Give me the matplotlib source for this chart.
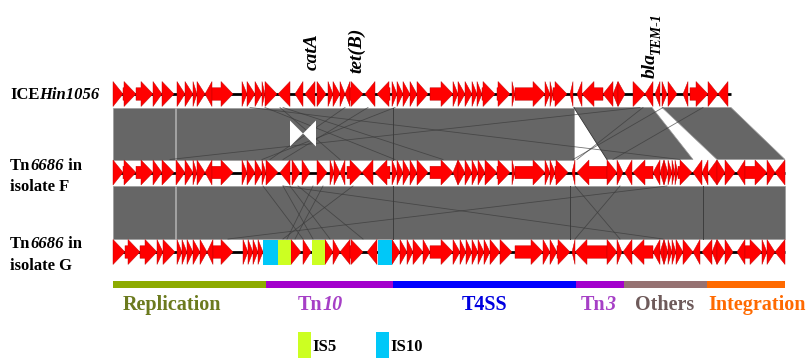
import matplotlib
matplotlib.use("Agg")
import matplotlib.pyplot as plt
from matplotlib.patches import Polygon, Rectangle
from matplotlib.transforms import offset_copy

plt.rcParams["font.family"] = "Liberation Serif"

# --- data (kb) ---------------------------------------------------------------
# each name line is a list of (text, style) pieces
TRACK_NAMES = [
    [[("ICE", "normal"), ("Hin1056", "italic")]],
    [[("Tn", "normal"), ("6686", "italic"), (" in", "normal")],
     [("isolate F", "normal")]],
    [[("Tn", "normal"), ("6686", "italic"), (" in", "normal")],
     [("isolate G", "normal")]],
]
TRACK_LEN = [61.8, 67.2, 67.2]

# (start, end, strand)
GENES_ICE = [
    (0.0, 1.0, 1), (1.0, 2.3, 1), (2.3, 4.0, 1), (4.0, 4.9, 1), (4.9, 6.1, 1),
    (6.4, 7.2, 1), (7.2, 8.0, 1), (8.0, 8.4, 1), (8.4, 9.2, 1), (9.2, 9.9, -1),
    (9.9, 12.0, 1), (12.9, 13.4, 1), (13.4, 14.2, 1), (14.2, 14.9, 1),
    (14.9, 15.2, 1), (15.2, 16.4, 1), (16.5, 17.7, -1), (18.2, 19.0, -1),
    (19.2, 20.2, -1), (20.4, 21.3, 1), (21.5, 22.0, 1), (22.0, 22.7, 1),
    (22.7, 23.2, 1), (23.2, 23.7, -1), (23.7, 25.0, 1), (25.2, 26.2, -1),
    (26.4, 27.7, -1), (27.9, 28.4, 1), (28.4, 29.0, 1), (29.0, 29.7, 1),
    (29.7, 30.4, 1), (30.4, 31.5, 1), (31.7, 34.0, 1), (34.0, 34.5, 1),
    (34.5, 35.2, 1), (35.2, 35.9, 1), (35.9, 36.4, 1), (36.4, 36.9, 1),
    (36.9, 38.2, 1), (38.4, 39.7, 1), (39.9, 40.2, 1), (40.2, 43.2, 1),
    (43.2, 43.7, 1), (43.7, 44.0, 1), (44.0, 45.4, 1), (45.7, 46.0, -1),
    (46.4, 46.9, -1), (46.9, 49.0, -1), (49.0, 50.0, -1), (50.0, 50.5, -1),
    (50.5, 51.2, 1), (52.0, 53.2, 1), (53.2, 54.0, -1), (54.2, 54.7, -1),
    (54.9, 55.4, 1), (55.5, 56.4, 1), (57.0, 57.5, -1), (57.7, 59.5, 1),
    (59.5, 60.5, 1), (60.5, 61.5, -1),
]
GENES_F = [
    (0.0, 1.0, 1), (1.0, 2.3, 1), (2.3, 4.0, 1), (4.0, 4.9, 1), (4.9, 6.1, 1),
    (6.3, 7.2, 1), (7.2, 8.0, 1), (8.0, 8.4, 1), (8.4, 9.2, 1), (9.2, 9.9, -1),
    (9.9, 12.0, 1), (12.9, 13.4, 1), (13.4, 14.2, 1), (14.2, 14.9, 1),
    (14.9, 15.3, 1), (15.3, 16.5, 1), (16.7, 17.7, -1), (17.9, 18.7, 1),
    (18.9, 19.7, 1), (20.4, 21.4, 1), (21.7, 22.1, 1), (22.1, 22.7, 1),
    (22.7, 23.2, -1), (23.4, 24.9, 1), (24.9, 26.0, -1), (26.2, 27.7, -1),
    (27.9, 28.4, 1), (28.4, 29.0, 1), (29.0, 29.7, 1), (29.7, 30.4, 1),
    (30.4, 31.5, 1), (31.7, 34.0, 1), (34.0, 34.5, -1), (34.5, 35.2, 1),
    (35.2, 35.9, 1), (35.9, 36.5, 1), (36.5, 37.2, 1), (37.2, 38.4, 1),
    (38.4, 39.7, 1), (39.9, 40.2, 1), (40.2, 43.2, 1), (43.2, 43.7, 1),
    (43.7, 44.2, 1), (44.2, 45.5, 1), (45.9, 46.2, -1), (46.4, 49.4, -1),
    (49.4, 50.4, 1), (50.4, 51.0, 1), (51.2, 51.9, -1), (52.0, 54.0, -1),
    (54.0, 54.7, -1), (54.7, 55.1, -1), (55.1, 55.5, 1), (55.5, 55.9, 1),
    (55.9, 56.2, 1), (56.2, 56.5, 1), (56.5, 57.9, 1), (58.0, 58.9, -1),
    (58.9, 59.5, -1), (59.5, 60.4, -1), (60.4, 61.2, 1), (61.2, 62.2, 1),
    (62.4, 63.2, -1), (63.2, 65.4, 1), (65.4, 66.2, 1), (66.2, 67.2, -1),
]
GENES_G = [
    (0.0, 1.2, 1), (1.2, 2.7, 1), (2.7, 4.4, 1), (4.4, 5.0, 1), (5.0, 6.2, 1),
    (6.4, 6.9, 1), (6.9, 7.4, 1), (7.4, 8.0, 1), (8.0, 8.7, 1), (8.7, 9.4, 1),
    (9.4, 10.0, -1), (10.0, 12.0, 1), (13.0, 13.5, 1), (13.5, 14.0, 1),
    (14.0, 14.5, 1), (14.5, 15.0, 1), (17.8, 18.8, 1), (19.0, 19.8, 1),
    (21.2, 22.0, 1), (22.0, 22.7, 1), (22.7, 23.7, -1), (23.7, 25.0, 1),
    (25.4, 26.4, -1), (27.9, 28.7, 1), (28.7, 29.4, 1), (29.4, 30.0, 1),
    (30.0, 31.0, 1), (31.0, 31.7, 1), (31.7, 34.0, 1), (34.0, 34.7, 1),
    (34.7, 35.3, 1), (35.3, 35.9, 1), (35.9, 36.5, 1), (36.5, 37.1, 1),
    (37.1, 37.7, 1), (37.7, 38.7, 1), (38.7, 39.9, 1), (40.2, 43.0, 1),
    (43.0, 43.7, 1), (43.7, 44.4, 1), (44.4, 45.7, 1), (45.9, 46.2, -1),
    (46.2, 49.4, -1), (49.4, 50.4, 1), (50.4, 50.9, 1), (51.0, 51.9, -1),
    (51.9, 54.0, -1), (54.0, 54.7, -1), (54.7, 55.1, -1), (55.1, 55.5, 1),
    (55.5, 55.9, 1), (55.9, 56.3, 1), (56.3, 57.0, 1), (57.0, 58.0, 1),
    (58.0, 58.7, -1), (58.9, 59.9, -1), (59.9, 60.4, -1), (60.4, 61.2, 1),
    (61.2, 62.0, 1), (62.4, 63.2, -1), (63.2, 64.9, 1), (64.9, 65.4, 1),
    (65.4, 66.2, 1), (66.2, 67.2, -1),
]
# IS elements in isolate G: (start, end, type)
IS_G = [(15.0, 16.5, "IS10"), (16.5, 17.8, "IS5"), (19.9, 21.2, "IS5"),
        (26.5, 27.9, "IS10")]

# BLAST hits between neighbouring tracks: (top_start, top_end, bot_start, bot_end)
HITS_1 = [(0.0, 6.2, 0.0, 6.2), (6.3, 28.0, 6.3, 28.0), (28.0, 46.1, 28.0, 46.1),
          (46.1, 53.9, 49.4, 58.0), (54.9, 61.8, 60.4, 67.2)]
HITS_2 = [(0.0, 6.2, 0.0, 6.2), (6.3, 28.0, 6.3, 28.0), (28.0, 45.7, 28.0, 45.7),
          (45.7, 59.0, 45.7, 59.0), (59.0, 67.2, 59.0, 67.2)]
# inverted segment leaving a hole in the ICE/F comparison
INV_1 = [(17.7, 20.3)]
# short inverted hits drawn as thin lines: (top_pos, bottom_pos)
SMALL_1 = [(13.7, 56.7), (52.7, 5.7), (15.2, 28.2), (16.7, 22.7), (23.2, 15.7),
           (28.2, 14.9), (53.0, 46.4), (55.0, 46.0), (17.0, 33.0), (25.5, 17.0),
           (59.0, 50.0)]
SMALL_2 = [(17.0, 55.0), (55.4, 11.5), (17.0, 20.0), (20.0, 17.4), (17.7, 21.7),
           (21.0, 18.2), (15.0, 19.0), (46.2, 50.7), (50.7, 46.2), (24.0, 17.0),
           (18.5, 25.0)]

CATEGORIES = [[("Replication", "normal")], [("Tn", "normal"), ("10", "italic")],
              [("T4SS", "normal")], [("Tn", "normal"), ("3", "italic")],
              [("Others", "normal")], [("Integration", "normal")]]
CAT_BOUNDS = [0.0, 15.3, 28.0, 46.3, 51.1, 59.4, 67.2]
CAT_LABEL_X = [5.9, 20.7, 37.1, 48.5, 55.2, 64.4]
CAT_BAR_COLORS = ["#8dab00", "#a300cc", "#0000ff", "#a300cc", "#967272", "#ff6a00"]
CAT_TEXT_COLORS = ["#6b7a1e", "#a63fc6", "#0000e0", "#a63fc6", "#6e5a5a", "#ff6a00"]

GENE_LABELS = [("catA", 19.9, 70), ("tet(B)", 24.4, 73)]
IS_COLORS = {"IS5": "#ccff22", "IS10": "#00c8f8"}

# --- layout ------------------------------------------------------------------
TRACK_Y = [94, 172.5, 252]
NAME_BASELINES = [[99], [170, 191], [248, 270]]
GENE_H = 25
BANDS = [(107.5, 159.5), (186, 239)]
GRAY = "#666666"
RED = "#ff0000"


def arrow_pts(x0, x1, strand, yc, head=1.2, shaft=0.5):
    hh, sh = GENE_H / 2, GENE_H * shaft / 2
    L = x1 - x0
    if L <= head:
        if strand > 0:
            return [(x0, yc - hh), (x1, yc), (x0, yc + hh)]
        return [(x1, yc - hh), (x0, yc), (x1, yc + hh)]
    if strand > 0:
        b = x1 - head
        return [(x0, yc - sh), (b, yc - sh), (b, yc - hh), (x1, yc),
                (b, yc + hh), (b, yc + sh), (x0, yc + sh)]
    b = x0 + head
    return [(x1, yc - sh), (b, yc - sh), (b, yc - hh), (x0, yc),
            (b, yc + hh), (b, yc + sh), (x1, yc + sh)]


def rich_text(ax, x, y, parts, ha="left", **kw):
    """Draw mixed upright/italic pieces on one baseline."""
    fig = ax.figure
    r = fig.canvas.get_renderer()
    texts, widths = [], []
    for s, st in parts:
        t = ax.text(x, y, s, style=st, ha="left", va="baseline",
                    fontweight="bold", **kw)
        texts.append(t)
        widths.append(t.get_window_extent(r).width)
    total = sum(widths)
    off = {"left": 0, "center": -total / 2, "right": -total}[ha]
    for t, w in zip(texts, widths):
        t.set_transform(offset_copy(ax.transData, fig, x=off, units="dots"))
        off += w


fig = plt.figure(figsize=(8.1, 3.58), dpi=100)
ax = fig.add_axes([0, 0, 1, 1])
ax.set_xlim(-11.3, 69.7)
ax.set_ylim(358, 0)
ax.axis("off")

# comparison bands
for (ytop, ybot), hits, small in zip(BANDS, [HITS_1, HITS_2], [SMALL_1, SMALL_2]):
    prev_end = None
    for ts, te, bs, be in hits:
        ax.add_patch(Polygon([(ts, ytop), (te, ytop), (be, ybot), (bs, ybot)],
                             closed=True, fc=GRAY, ec="#9a9a9a", lw=0.5, zorder=1))
        if prev_end is not None and abs(prev_end - ts) < 1e-6:
            ax.plot([ts, bs], [ytop, ybot], color="#3c3c3c", lw=0.7, zorder=2)
        prev_end = te
    for tp, bp in small:
        ax.plot([tp, bp], [ytop, ybot], color="#3a3a3a", lw=0.6, alpha=0.7, zorder=2)

ytop, ybot = BANDS[0]
ym = (ytop + ybot) / 2
for a, b in INV_1:
    m = (a + b) / 2
    for e in (a, b):
        ax.add_patch(Polygon([(e, ym - 13), (e, ym + 13), (m, ym)], closed=True,
                             fc="white", ec="none", zorder=3))

# tracks
for yc, length, genes in zip(TRACK_Y, TRACK_LEN, [GENES_ICE, GENES_F, GENES_G]):
    ax.plot([0, length], [yc, yc], color="black", lw=2.0, zorder=4,
            solid_capstyle="butt")
    for s, e, st in genes:
        ax.add_patch(Polygon(arrow_pts(s, e, st, yc), closed=True, fc=RED,
                             ec="#c00000", lw=0.3, zorder=5))
for s, e, kind in IS_G:
    ax.add_patch(Rectangle((s, TRACK_Y[2] - GENE_H / 2), e - s, GENE_H,
                           fc=IS_COLORS[kind], ec="none", zorder=6))

# track names
for lines, bases in zip(TRACK_NAMES, NAME_BASELINES):
    for parts, yb in zip(lines, bases):
        rich_text(ax, -10.3, yb, parts, fontsize=12)

# gene labels
for lab, x, ybottom in GENE_LABELS:
    ax.text(x, ybottom, lab, rotation=90, fontsize=14, fontweight="bold",
            style="italic", ha="center", va="bottom")
ax.text(53.7, 78, "bla", rotation=90, fontsize=14, fontweight="bold",
        style="italic", ha="center", va="bottom")
ax.text(54.3, 54, "TEM-1", rotation=90, fontsize=10, fontweight="bold",
        style="italic", ha="center", va="bottom")

# category bar
for i, (parts, c_bar, c_txt, lx) in enumerate(zip(CATEGORIES, CAT_BAR_COLORS,
                                                  CAT_TEXT_COLORS, CAT_LABEL_X)):
    left, right = CAT_BOUNDS[i], CAT_BOUNDS[i + 1]
    ax.barh(284, right - left, left=left, height=7, color=c_bar, zorder=3)
    rich_text(ax, lx, 310, parts, ha="center", fontsize=14.5, color=c_txt)

# IS legend
for kind, x in [("IS5", 18.5), ("IS10", 26.3)]:
    ax.add_patch(Rectangle((x, 332), 1.25, 26, fc=IS_COLORS[kind], ec="none"))
    ax.text(x + 1.45, 351, kind, fontsize=12, fontweight="bold", ha="left",
            va="baseline")

fig.savefig("out.png", dpi=100)
